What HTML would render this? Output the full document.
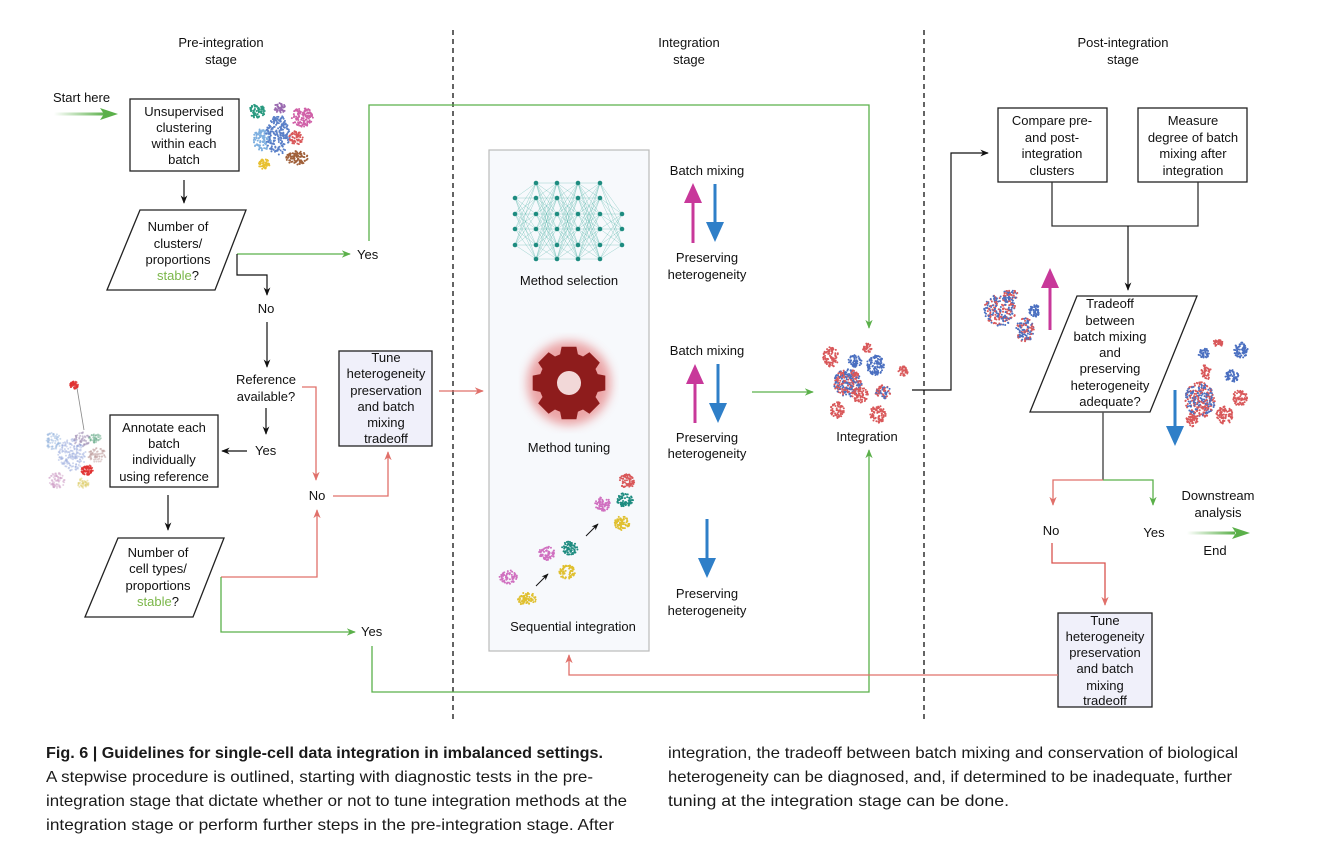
<!DOCTYPE html>
<html><head><meta charset="utf-8"><style>
html,body{margin:0;padding:0;background:#fff;width:1321px;height:850px;overflow:hidden}
svg{display:block}
text{font-family:"Liberation Sans",sans-serif;font-size:13px;fill:#111}
.c{text-anchor:middle}
.cap{font-size:16px;fill:#1a1a1a}
</style></head><body>
<svg id="s" width="1321" height="850" viewBox="0 0 1321 850" xmlns="http://www.w3.org/2000/svg">
<defs>
<marker id="ak" viewBox="0 0 10 10" refX="9" refY="5" markerWidth="7" markerHeight="7" orient="auto"><path d="M0,1 L10,5 L0,9 L3,5z" fill="#111"/></marker>
<marker id="ag" viewBox="0 0 10 10" refX="9" refY="5" markerWidth="7" markerHeight="7" orient="auto"><path d="M0,1 L10,5 L0,9 L3,5z" fill="#5bb04a"/></marker>
<marker id="ar" viewBox="0 0 10 10" refX="9" refY="5" markerWidth="7" markerHeight="7" orient="auto"><path d="M0,1 L10,5 L0,9 L3,5z" fill="#e0706a"/></marker>
<linearGradient id="gg" x1="0" x2="1"><stop offset="0" stop-color="#5bb04a" stop-opacity="0"/><stop offset="1" stop-color="#5bb04a"/></linearGradient>
<filter id="blur"><feGaussianBlur stdDeviation="5"/></filter>
</defs>

<text class="c" x="221" y="47">Pre-integration</text><text class="c" x="221" y="64">stage</text>
<text class="c" x="689" y="47">Integration</text><text class="c" x="689" y="64">stage</text>
<text class="c" x="1123" y="47">Post-integration</text><text class="c" x="1123" y="64">stage</text>
<line x1="453" y1="30" x2="453" y2="722" stroke="#111" stroke-width="1.3" stroke-dasharray="5,4"/>
<line x1="924" y1="30" x2="924" y2="722" stroke="#111" stroke-width="1.3" stroke-dasharray="5,4"/>

<text x="53" y="102">Start here</text>
<rect x="54" y="112.5" width="52" height="3" fill="url(#gg)"/>
<path d="M100,108 L118,114 L100,120 L104,114z" fill="#5bb04a"/>

<rect x="130" y="99" width="109" height="72" fill="#fff" stroke="#222" stroke-width="1.3"/>
<text class="c" x="184" y="116">Unsupervised</text><text class="c" x="184" y="132">clustering</text><text class="c" x="184" y="148">within each</text><text class="c" x="184" y="164">batch</text>
<line x1="184" y1="180" x2="184" y2="203" stroke="#111" stroke-width="1.2" marker-end="url(#ak)"/>

<polygon points="140,210 246,210 215,290 107,290" fill="#fff" stroke="#222" stroke-width="1.3"/>
<text class="c" x="178" y="231">Number of</text><text class="c" x="178" y="248">clusters/</text><text class="c" x="178" y="264">proportions</text><text class="c" x="178" y="280"><tspan style="fill:#7ab648">stable</tspan>?</text>

<path d="M237,254 L350,254" fill="none" stroke="#5bb04a" stroke-width="1.3" marker-end="url(#ag)"/>
<text x="357" y="259">Yes</text>
<path d="M369,241 L369,105 L869,105 L869,328" fill="none" stroke="#5bb04a" stroke-width="1.3" marker-end="url(#ag)"/>
<path d="M237,254 L237,275 L267,275 L267,295" fill="none" stroke="#111" stroke-width="1.2" marker-end="url(#ak)"/>
<text class="c" x="266" y="313">No</text>
<line x1="267" y1="322" x2="267" y2="367" stroke="#111" stroke-width="1.2" marker-end="url(#ak)"/>
<text class="c" x="266" y="384">Reference</text><text class="c" x="266" y="401">available?</text>
<line x1="266" y1="408" x2="266" y2="434" stroke="#111" stroke-width="1.2" marker-end="url(#ak)"/>
<text x="255" y="455">Yes</text>
<line x1="247" y1="451" x2="222" y2="451" stroke="#111" stroke-width="1.2" marker-end="url(#ak)"/>
<path d="M302,387 L316,387 L316,480" fill="none" stroke="#e0706a" stroke-width="1.3" marker-end="url(#ar)"/>
<text class="c" x="317" y="500">No</text>
<path d="M333,496 L388,496 L388,452" fill="none" stroke="#e0706a" stroke-width="1.3" marker-end="url(#ar)"/>

<rect x="339" y="351" width="93" height="95" fill="#f0f0fa" stroke="#222" stroke-width="1.3"/>
<text class="c" x="386" y="362">Tune</text><text class="c" x="386" y="378">heterogeneity</text><text class="c" x="386" y="395">preservation</text><text class="c" x="386" y="411">and batch</text><text class="c" x="386" y="427">mixing</text><text class="c" x="386" y="443">tradeoff</text>
<line x1="439" y1="391" x2="483" y2="391" stroke="#e0706a" stroke-width="1.3" marker-end="url(#ar)"/>

<rect x="110" y="415" width="108" height="72" fill="#fff" stroke="#222" stroke-width="1.3"/>
<text class="c" x="164" y="432">Annotate each</text><text class="c" x="164" y="448">batch</text><text class="c" x="164" y="464">individually</text><text class="c" x="164" y="481">using reference</text>
<line x1="168" y1="495" x2="168" y2="530" stroke="#111" stroke-width="1.2" marker-end="url(#ak)"/>
<polygon points="118,538 224,538 193,617 85,617" fill="#fff" stroke="#222" stroke-width="1.3"/>
<text class="c" x="158" y="557">Number of</text><text class="c" x="158" y="573">cell types/</text><text class="c" x="158" y="590">proportions</text><text class="c" x="158" y="606"><tspan style="fill:#7ab648">stable</tspan>?</text>
<path d="M221,577 L317,577 L317,510" fill="none" stroke="#e0706a" stroke-width="1.3" marker-end="url(#ar)"/>
<path d="M221,577 L221,632 L355,632" fill="none" stroke="#5bb04a" stroke-width="1.3" marker-end="url(#ag)"/>
<text x="361" y="636">Yes</text>
<path d="M372,646 L372,692 L869,692 L869,450" fill="none" stroke="#5bb04a" stroke-width="1.3" marker-end="url(#ag)"/>

<rect x="489" y="150" width="160" height="501" fill="#f7f9fc" stroke="#bbb" stroke-width="1.2"/>
<g id="nn"></g>
<text class="c" x="569" y="285">Method selection</text>
<g>
<circle cx="569" cy="383" r="42" fill="#e05050" opacity="0.5" filter="url(#blur)"/>
<g id="gear"></g>
</g>
<text class="c" x="569" y="452">Method tuning</text>
<text class="c" x="573" y="631">Sequential integration</text>
<line x1="536" y1="586" x2="548" y2="574" stroke="#111" stroke-width="1" marker-end="url(#ak)"/>
<line x1="586" y1="536" x2="598" y2="524" stroke="#111" stroke-width="1" marker-end="url(#ak)"/>

<text class="c" x="707" y="175">Batch mixing</text>
<text class="c" x="707" y="262">Preserving</text><text class="c" x="707" y="279">heterogeneity</text>
<text class="c" x="707" y="355">Batch mixing</text>
<text class="c" x="707" y="442">Preserving</text><text class="c" x="707" y="458">heterogeneity</text>
<text class="c" x="707" y="598">Preserving</text><text class="c" x="707" y="615">heterogeneity</text>
<g id="arrows"></g>

<line x1="752" y1="392" x2="813" y2="392" stroke="#5bb04a" stroke-width="1.3" marker-end="url(#ag)"/>
<text class="c" x="867" y="441">Integration</text>
<path d="M912,390 L951,390 L951,153 L988,153" fill="none" stroke="#111" stroke-width="1.2" marker-end="url(#ak)"/>

<rect x="998" y="108" width="109" height="74" fill="#fff" stroke="#222" stroke-width="1.3"/>
<text class="c" x="1052" y="125">Compare pre-</text><text class="c" x="1052" y="142">and post-</text><text class="c" x="1052" y="158">integration</text><text class="c" x="1052" y="175">clusters</text>
<rect x="1138" y="108" width="109" height="74" fill="#fff" stroke="#222" stroke-width="1.3"/>
<text class="c" x="1193" y="125">Measure</text><text class="c" x="1193" y="142">degree of batch</text><text class="c" x="1193" y="158">mixing after</text><text class="c" x="1193" y="175">integration</text>
<path d="M1052,182 L1052,226 L1198,226 L1198,182" fill="none" stroke="#333" stroke-width="1.3"/>
<line x1="1128" y1="226" x2="1128" y2="290" stroke="#111" stroke-width="1.2" marker-end="url(#ak)"/>
<polygon points="1077,296 1197,296 1150,412 1030,412" fill="#fff" stroke="#222" stroke-width="1.3"/>
<text class="c" x="1110" y="308">Tradeoff</text><text class="c" x="1110" y="325">between</text><text class="c" x="1110" y="341">batch mixing</text><text class="c" x="1110" y="357">and</text><text class="c" x="1110" y="373">preserving</text><text class="c" x="1110" y="390">heterogeneity</text><text class="c" x="1110" y="406">adequate?</text>
<line x1="1103" y1="412" x2="1103" y2="480" stroke="#555" stroke-width="1.5"/>
<path d="M1103,480 L1053,480 L1053,505" fill="none" stroke="#e0706a" stroke-width="1.3" marker-end="url(#ar)"/>
<path d="M1103,480 L1153,480 L1153,505" fill="none" stroke="#5bb04a" stroke-width="1.3" marker-end="url(#ag)"/>
<text class="c" x="1051" y="535">No</text><text class="c" x="1154" y="537">Yes</text>
<text class="c" x="1218" y="500">Downstream</text><text class="c" x="1218" y="517">analysis</text>
<rect x="1187" y="531.5" width="48" height="3" fill="url(#gg)"/>
<path d="M1232,527 L1250,533 L1232,539 L1236,533z" fill="#5bb04a"/>
<text class="c" x="1215" y="555">End</text>
<path d="M1052,543 L1052,563 L1105,563 L1105,605" fill="none" stroke="#d9534f" stroke-width="1.3" marker-end="url(#ar)"/>
<rect x="1058" y="613" width="94" height="94" fill="#f0f0fa" stroke="#222" stroke-width="1.3"/>
<text class="c" x="1105" y="625">Tune</text><text class="c" x="1105" y="641">heterogeneity</text><text class="c" x="1105" y="657">preservation</text><text class="c" x="1105" y="673">and batch</text><text class="c" x="1105" y="690">mixing</text><text class="c" x="1105" y="705">tradeoff</text>
<path d="M1058,675 L569,675 L569,655" fill="none" stroke="#e0706a" stroke-width="1.3" marker-end="url(#ar)"/>

<g id="dots"></g>

<text class="cap" x="46" y="758" font-weight="bold" textLength="557" lengthAdjust="spacingAndGlyphs">Fig. 6 | Guidelines for single-cell data integration in imbalanced settings.</text>
<text class="cap" x="46" y="782" textLength="547" lengthAdjust="spacingAndGlyphs">A stepwise procedure is outlined, starting with diagnostic tests in the pre-</text>
<text class="cap" x="46" y="806" textLength="581" lengthAdjust="spacingAndGlyphs">integration stage that dictate whether or not to tune integration methods at the</text>
<text class="cap" x="46" y="830" textLength="568" lengthAdjust="spacingAndGlyphs">integration stage or perform further steps in the pre-integration stage. After</text>
<text class="cap" x="668" y="758" textLength="570" lengthAdjust="spacingAndGlyphs">integration, the tradeoff between batch mixing and conservation of biological</text>
<text class="cap" x="668" y="782" textLength="564" lengthAdjust="spacingAndGlyphs">heterogeneity can be diagnosed, and, if determined to be inadequate, further</text>
<text class="cap" x="668" y="806" textLength="341" lengthAdjust="spacingAndGlyphs">tuning at the integration stage can be done.</text>
</svg>
<script>
var NS="http://www.w3.org/2000/svg";
function el(p,t,a){var e=document.createElementNS(NS,t);for(var k in a)e.setAttribute(k,a[k]);p.appendChild(e);return e;}
var seed=7;function rnd(){seed=(seed*16807)%2147483647;return seed/2147483647;}
var nn=document.getElementById('nn');
var xs=[515,536,557,578,600,622];
var L=[[198,214,229,245],[183,198,214,229,245,259],[183,198,214,229,245,259],[183,198,214,229,245,259],[183,198,214,229,245,259],[214,229,245]];
for(var i=0;i<5;i++)for(var a=0;a<L[i].length;a++)for(var b=0;b<L[i+1].length;b++)el(nn,'line',{x1:xs[i],y1:L[i][a],x2:xs[i+1],y2:L[i+1][b],stroke:'#4fb3a6','stroke-width':0.4,opacity:0.7});
for(var i=0;i<6;i++)L[i].forEach(function(y){el(nn,'circle',{cx:xs[i],cy:y,r:2.3,fill:'#1e8c80'});});
var g=document.getElementById('gear');var d='';var cx=569,cy=383;
for(var k=0;k<8;k++){var a0=k*Math.PI/4;
 for(var j=0;j<4;j++){var ang=a0+[-0.3,-0.2,0.2,0.3][j];var r=[30,37,37,30][j];d+=(k==0&&j==0?'M':'L')+(cx+r*Math.cos(ang)).toFixed(1)+','+(cy+r*Math.sin(ang)).toFixed(1);}
 d+='L'+(cx+30*Math.cos(a0+0.45)).toFixed(1)+','+(cy+30*Math.sin(a0+0.45)).toFixed(1);}
d+='Z';
el(g,'path',{d:d,fill:'#8e1c1c'});
el(g,'circle',{cx:cx,cy:cy,r:12,fill:'#f2d8d8'});
var ar=document.getElementById('arrows');
function arrow(x,y1,y2,col){var h=y2<y1?-1:1;var hl=20*h;
 el(ar,'path',{d:'M'+(x-1.5)+','+y1+' L'+(x-1.5)+','+(y2-hl)+' L'+(x-9)+','+(y2-hl)+' L'+x+','+y2+' L'+(x+9)+','+(y2-hl)+' L'+(x+1.5)+','+(y2-hl)+' L'+(x+1.5)+','+y1+'Z',fill:col});}
arrow(693,243,183,'#c8389a');arrow(715,184,242,'#2f7fc8');
arrow(695,423,364,'#c8389a');arrow(718,364,423,'#2f7fc8');
arrow(707,519,578,'#2f7fc8');
arrow(1050,330,268,'#c8389a');arrow(1175,390,446,'#2f7fc8');
var dt=document.getElementById('dots');
function blob(x,y,rx,ry,n,cols,op){n=Math.round(n*1.8);for(var i=0;i<n;i++){var t=rnd()*6.283,r=Math.sqrt(rnd());el(dt,'circle',{cx:x+rx*r*Math.cos(t),cy:y+ry*r*Math.sin(t),r:1,fill:cols[Math.floor(rnd()*cols.length)],opacity:op||1});}}
var R=['#d9585a'],B=['#4a6fc0'],RB=['#d9585a','#4a6fc0'];
blob(257,111,8,7,40,['#2a9a80']);blob(280,108,6,5,25,['#9a6ab0']);blob(262,140,9,11,60,['#7fb0e0']);blob(278,135,12,20,120,['#5a80c8']);
blob(302,117,11,10,70,['#d060a8']);blob(296,138,7,7,35,['#d9585a']);blob(297,158,11,7,50,['#a0603a']);blob(264,164,6,5,30,['#e8c030']);
blob(53,441,8,9,40,['#9ab8e0'],0.5);blob(82,440,8,8,30,['#9a88b0'],0.5);blob(95,438,6,5,25,['#70b090'],0.5);blob(72,455,14,16,100,['#a0b0e0'],0.5);
blob(97,455,9,7,40,['#c0a0a0'],0.5);blob(87,470,6,5,40,['#e03030'],0.8);blob(57,480,8,8,40,['#d0a0c8'],0.5);blob(83,483,6,5,25,['#e0d070'],0.5);
blob(74,385,4,4,25,['#e03030'],0.8);
el(dt,'line',{x1:77,y1:388,x2:84,y2:430,stroke:'#888','stroke-width':0.8});
blob(508,577,9,7,40,['#d070c0']);blob(527,599,9,7,40,['#e0c030']);blob(547,553,8,7,40,['#d070c0']);blob(570,548,8,7,40,['#1e8c80']);blob(567,572,8,7,40,['#e0c030']);
blob(603,504,8,7,40,['#d070c0']);blob(627,481,8,7,40,['#d9585a']);blob(625,500,8,7,40,['#1e8c80']);blob(622,523,8,7,40,['#e0c030']);
blob(831,357,8,10,50,R);blob(855,361,7,6,30,B);blob(875,365,9,10,60,B);blob(867,348,5,5,20,R);blob(848,383,14,14,150,RB);blob(883,392,8,7,40,RB);blob(837,410,7,8,35,R);blob(878,414,8,9,45,R);blob(903,371,5,5,20,R);blob(860,395,8,8,40,R);
blob(1000,310,16,16,120,RB);blob(1010,295,8,5,30,RB);blob(1025,330,9,12,70,RB);blob(1035,311,6,6,30,B);
blob(1204,353,6,5,25,B);blob(1218,343,5,4,20,R);blob(1241,350,7,8,40,B);blob(1232,376,7,6,30,B);blob(1240,398,8,8,40,R);blob(1200,400,15,18,160,RB);blob(1225,415,9,9,50,R);blob(1192,420,6,7,30,R);blob(1206,372,5,8,25,R);
</script>
</body></html>
